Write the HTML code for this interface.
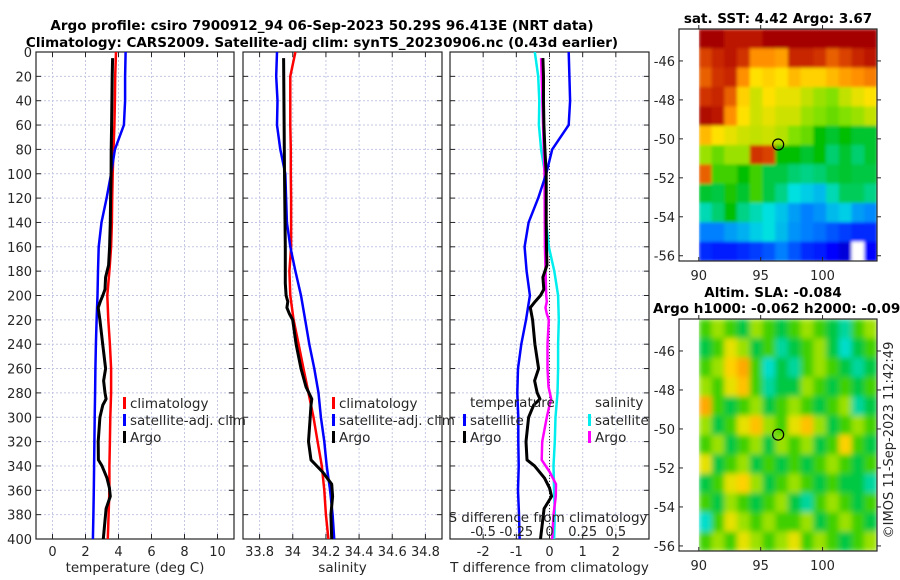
<!DOCTYPE html>
<html><head><meta charset="utf-8"><style>
html,body{margin:0;padding:0;background:#fff;}
svg{display:block;font-family:"DejaVu Sans","Liberation Sans",sans-serif;}
</style></head><body>
<svg id="fig" width="900" height="580" viewBox="0 0 900 580" xmlns="http://www.w3.org/2000/svg">
<defs>
<filter id="blur" x="0" y="0" width="1" height="1"><feGaussianBlur stdDeviation="3" edgeMode="duplicate"/></filter>
<filter id="blur2" x="0" y="0" width="1" height="1"><feGaussianBlur stdDeviation="1.5" edgeMode="duplicate"/></filter>
</defs>
<text x="322" y="30" font-size="13.5" font-weight="bold" text-anchor="middle">Argo profile: csiro 7900912_94 06-Sep-2023 50.29S 96.413E (NRT data)</text>
<text x="322" y="47" font-size="13.5" font-weight="bold" text-anchor="middle">Climatology: CARS2009. Satellite-adj clim: synTS_20230906.nc (0.43d earlier)</text>
<text x="778" y="23" font-size="13.5" font-weight="bold" text-anchor="middle">sat. SST: 4.42 Argo: 3.67</text>
<text x="773" y="297" font-size="13.5" font-weight="bold" text-anchor="middle">Altim. SLA: -0.084</text>
<text x="653" y="313" font-size="13.5" font-weight="bold">Argo h1000: -0.062 h2000: -0.099</text>
<text transform="translate(893,440) rotate(-90)" font-size="13" text-anchor="middle" fill="#262626">©IMOS 11-Sep-2023 11:42:49</text>
</svg>
<script>
// ---- data ----
const stdDepth = [0,20,40,60,80,100,120,140,160,180,200,220,240,260,280,300,320,340,360,380,400];
const climT = [3.85,3.8,3.78,3.75,3.7,3.65,3.62,3.6,3.55,3.45,3.32,3.38,3.48,3.55,3.55,3.5,3.48,3.45,3.45,3.4,3.35];
const satT = [4.43,4.4,4.4,4.33,3.78,3.55,3.28,2.97,2.8,2.76,2.73,2.67,2.63,2.6,2.58,2.56,2.54,2.52,2.5,2.48,2.45];
const climS = [34.016,33.985,33.985,33.985,33.988,33.988,33.99,33.99,33.99,33.98,33.985,34.005,34.035,34.065,34.095,34.125,34.15,34.175,34.19,34.2,34.215];
const satS = [33.905,33.9,33.908,33.905,33.925,33.955,33.96,33.965,33.985,34.016,34.05,34.075,34.1,34.13,34.155,34.17,34.19,34.205,34.225,34.24,34.25];
const argoTDepth = [5,20,40,60,80,100,120,140,160,175,185,195,200,205,210,220,240,260,270,280,285,290,300,320,335,340,350,358,365,375,400];
const argoT = [3.64,3.62,3.6,3.58,3.56,3.55,3.52,3.5,3.46,3.4,3.22,3.18,3.05,2.9,2.77,2.87,3.04,3.22,3.1,3.18,3.25,3.05,2.87,2.77,2.78,3.0,3.3,3.45,3.5,3.25,3.08];
const argoSDepth = [5,100,160,190,200,205,210,215,220,240,260,275,285,290,300,320,335,345,355,365,380,400];
const argoS = [33.945,33.95,33.955,33.955,33.96,33.97,33.965,33.98,34.0,34.02,34.05,34.08,34.115,34.11,34.105,34.095,34.11,34.18,34.235,34.24,34.23,34.235];
const depthTicks = [0,20,40,60,80,100,120,140,160,180,200,220,240,260,280,300,320,340,360,380,400];
const tTicks = [0,2,4,6,8,10];
const sTicks = [33.8,34,34.2,34.4,34.6,34.8];
const sTickLabels = ["33.8","34","34.2","34.4","34.6","34.8"];
const dTicks = [-2,-1,0,1,2];
const dsTicks = [-0.5,-0.25,0,0.25,0.5];
const dsTickLabels = ["-0.5","-0.25","0","0.25","0.5"];
const mapLonTicks = [90,95,100];
const mapLatTicks = [-46,-48,-50,-52,-54,-56];
const argoLon = 96.413, argoLat = -50.29;
const sstGrid = [
[1,1,0.95,0.95,0.95,1,1,1,1,1,1,1,1,1],
[0.88,0.92,0.95,0.9,0.8,0.8,0.78,0.92,0.92,0.9,0.85,0.88,0.92,0.95],
[0.85,0.9,0.92,0.8,0.7,0.72,0.7,0.75,0.72,0.72,0.75,0.78,0.8,0.82],
[0.9,0.92,0.85,0.72,0.66,0.7,0.68,0.68,0.65,0.62,0.6,0.65,0.68,0.7],
[0.98,0.95,0.8,0.7,0.66,0.68,0.66,0.66,0.62,0.6,0.58,0.6,0.62,0.65],
[0.75,0.7,0.68,0.66,0.65,0.66,0.64,0.6,0.58,0.5,0.48,0.5,0.48,0.48],
[0.62,0.58,0.62,0.62,0.9,0.88,0.5,0.5,0.48,0.5,0.45,0.48,0.45,0.48],
[0.85,0.55,0.55,0.5,0.55,0.47,0.47,0.45,0.44,0.45,0.47,0.48,0.47,0.47],
[0.48,0.47,0.52,0.48,0.55,0.47,0.44,0.4,0.38,0.36,0.42,0.46,0.46,0.44],
[0.42,0.45,0.5,0.44,0.42,0.4,0.37,0.33,0.3,0.32,0.36,0.38,0.33,0.31],
[0.3,0.3,0.33,0.35,0.38,0.4,0.36,0.32,0.3,0.28,0.25,0.22,0.2,0.2],
[0.2,0.18,0.18,0.2,0.22,0.25,0.3,0.25,0.2,0.18,0.15,0.1,-1,0.15]];
const slaGrid = [
[.55,.62,.55,.47,.62,.55,.47,.55,.62,.55,.47,.43,.55,.62],
[.47,.55,.68,.62,.47,.55,.43,.47,.55,.62,.47,.41,.47,.55],
[.55,.62,.72,.77,.55,.41,.47,.43,.55,.62,.55,.47,.43,.47],
[.62,.55,.68,.74,.55,.43,.47,.47,.62,.55,.47,.55,.47,.55],
[.77,.55,.47,.55,.62,.47,.55,.62,.55,.47,.55,.62,.43,.47],
[.62,.47,.55,.68,.74,.62,.55,.68,.74,.62,.47,.55,.62,.55],
[.55,.62,.47,.55,.62,.47,.62,.55,.62,.47,.55,.72,.55,.47],
[.68,.47,.55,.62,.47,.55,.47,.55,.47,.55,.62,.55,.47,.55],
[.47,.55,.68,.72,.62,.47,.55,.62,.55,.47,.55,.47,.47,.43],
[.55,.47,.62,.55,.47,.55,.62,.47,.43,.55,.62,.55,.47,.55],
[.41,.55,.68,.62,.55,.62,.55,.55,.62,.47,.55,.62,.55,.47],
[.55,.62,.55,.68,.62,.55,.62,.68,.55,.62,.55,.47,.55,.62]];

const NS='http://www.w3.org/2000/svg';
const svg=document.getElementById('fig');
function mk(tag,attrs,parent){const e=document.createElementNS(NS,tag);for(const k in attrs)e.setAttribute(k,attrs[k]);(parent||svg).appendChild(e);return e;}
function txt(x,y,s,size,anchor,parent){const t=mk('text',{x:x,y:y,'font-size':size,'text-anchor':anchor,fill:'#262626'},parent);t.textContent=s;return t;}
function interp(xs,ys,x){if(x<=xs[0])return ys[0];for(let i=1;i<xs.length;i++){if(x<=xs[i]){const f=(x-xs[i-1])/(xs[i]-xs[i-1]);return ys[i-1]+f*(ys[i]-ys[i-1]);}}return ys[ys.length-1];}

const TOP=52,BOT=539;
const yD=d=>TOP+(BOT-TOP)*d/400;

function panel(name,x0,x1,vmin,vmax,ticks,labels,xlabel,showY){
  const xs=v=>x0+(x1-x0)*(v-vmin)/(vmax-vmin);
  const g=mk('g',{});
  
  
  depthTicks.forEach(d=>{const y=yD(d);
    const l=mk('line',{x1:x0,x2:x1,y1:y,y2:y,stroke:'#c4c8e4','stroke-width':1,'stroke-dasharray':'2,2'},g);
    
    
    mk('line',{x1:x0,x2:x0+5,y1:y,y2:y,stroke:'#262626'},g);
    mk('line',{x1:x1-5,x2:x1,y1:y,y2:y,stroke:'#262626'},g);
    if(showY){const t=txt(x0-4,y+5,String(d),13,'end',g);
      
      }
  });
  ticks.forEach((v,i)=>{const x=xs(v);
    const l=mk('line',{x1:x,x2:x,y1:TOP,y2:BOT,stroke:'#c4c8e4','stroke-width':1,'stroke-dasharray':'2,2'},g);
    
    
    mk('line',{x1:x,x2:x,y1:BOT,y2:BOT-5,stroke:'#262626'},g);
    mk('line',{x1:x,x2:x,y1:TOP,y2:TOP+5,stroke:'#262626'},g);
    const t=txt(x,556,labels[i],13,'middle',g);
    
    
  });
  const r=mk('rect',{x:x0,y:TOP,width:x1-x0,height:BOT-TOP,fill:'none',stroke:'#262626','stroke-width':1.2},g);
  
  
  const xl=txt((x0+x1)/2,572,xlabel,13.5,'middle',g);
  
  
  return xs;
}
function line(xs,vals,depths,color,w,name,clip){
  const pts=vals.map((v,i)=>xs(v).toFixed(1)+','+yD(depths[i]).toFixed(1)).join(' ');
  const p=mk('polyline',{points:pts,fill:'none',stroke:color,'stroke-width':w,'stroke-linejoin':'round','clip-path':clip});
  
  
}
function clipRect(id,x0,x1){const d=mk('clipPath',{id:id});mk('rect',{x:x0,y:TOP,width:x1-x0,height:BOT-TOP},d);}
function legendEntry(x,y,color,label,name){
  const g=mk('g',{});
  
  
  mk('rect',{x:x,y:y-10,width:3,height:12,fill:color},g);
  txt(x+7,y+1,label,13.5,'start',g);
}

clipRect('c1',36,234);clipRect('c2',243,442);clipRect('c3',450,649);
const x1s=panel('temperature-panel',36,234,-1,11,tTicks,tTicks.map(String),'temperature (deg C)',true);
line(x1s,climT,stdDepth,'#ff0000',2.5,'climatology-temperature-line','url(#c1)');
line(x1s,satT,stdDepth,'#0000ff',2.5,'satellite-temperature-line','url(#c1)');
line(x1s,argoT,argoTDepth,'#000000',3,'argo-temperature-line','url(#c1)');
legendEntry(123,407,'#ff0000','climatology','legend-climatology-temp');
legendEntry(123,424,'#0000ff','satellite-adj. clim','legend-satellite-temp');
legendEntry(123,441,'#000000','Argo','legend-argo-temp');

const x2s=panel('salinity-panel',243,442,33.7,34.9,sTicks,sTickLabels,'salinity',false);
line(x2s,climS,stdDepth,'#ff0000',2.5,'climatology-salinity-line','url(#c2)');
line(x2s,satS,stdDepth,'#0000ff',2.5,'satellite-salinity-line','url(#c2)');
line(x2s,argoS,argoSDepth,'#000000',3,'argo-salinity-line','url(#c2)');
legendEntry(332,407,'#ff0000','climatology','legend-climatology-sal');
legendEntry(332,424,'#0000ff','satellite-adj. clim','legend-satellite-sal');
legendEntry(332,441,'#000000','Argo','legend-argo-sal');

const x3s=panel('difference-panel',450,649,-3,3,dTicks,dTicks.map(String),'T difference from climatology',false);
const z=mk('line',{x1:x3s(0),x2:x3s(0),y1:TOP,y2:BOT,stroke:'#333','stroke-width':1,'stroke-dasharray':'1,2'});


const satTd=satT.map((v,i)=>v-climT[i]);
const satSd=satS.map((v,i)=>4*(v-climS[i]));
const argoTd=argoT.map((v,i)=>v-interp(stdDepth,climT,argoTDepth[i]));
const argoSd=argoS.map((v,i)=>4*(v-interp(stdDepth,climS,argoSDepth[i])));
line(x3s,satSd,stdDepth,'#00eeee',2.5,'satellite-salinity-diff-line','url(#c3)');
line(x3s,argoSd,argoSDepth,'#ff00ff',2.5,'argo-salinity-diff-line','url(#c3)');
line(x3s,satTd,stdDepth,'#0000ff',2.5,'satellite-temperature-diff-line','url(#c3)');
line(x3s,argoTd,argoTDepth,'#000000',3,'argo-temperature-diff-line','url(#c3)');
const lt=txt(470,407,'temperature',13.5,'start');


legendEntry(463,424,'#0000ff','satellite','legend-satellite-tdiff');
legendEntry(463,441,'#000000','Argo','legend-argo-tdiff');
const ls=txt(595,407,'salinity',13.5,'start');


legendEntry(588,424,'#00eeee','satellite','legend-satellite-sdiff');
legendEntry(588,441,'#ff00ff','Argo','legend-argo-sdiff');
const st=txt(548,522,'S difference from climatology',13.5,'middle');


dsTicks.forEach((v,i)=>{const t=txt(x3s(4*v),536,dsTickLabels[i],13,'middle');
  
  });

const stops=[[0,[0,0,143]],[0.15,[0,0,255]],[0.3,[0,128,255]],[0.4,[0,224,224]],[0.5,[0,190,0]],[0.6,[130,225,0]],[0.7,[255,225,0]],[0.8,[255,144,0]],[0.9,[208,48,0]],[1,[165,0,0]]];
function cmap(v){if(v<0)return '#ffffff';for(let i=1;i<stops.length;i++){if(v<=stops[i][0]){const a=stops[i-1],b=stops[i],f=(v-a[0])/(b[0]-a[0]);const c=a[1].map((q,k)=>Math.round(q+f*(b[1][k]-q)));return 'rgb('+c.join(',')+')';}}return 'rgb(165,0,0)';}
function map(name,grid,y0,y1,latTop,latBot,filt){
  const X0=679,X1=877,lonL=88.4,lonR=104.4;
  const lx=lon=>X0+(X1-X0)*(lon-lonL)/(lonR-lonL);
  const ly=lat=>y0+(y1-y0)*(latTop-lat)/(latTop-latBot);
  const g=mk('g',{});
  
  
  const cid='clip-'+name;
  const cp=mk('clipPath',{id:cid});mk('rect',{x:lx(90),y:y0,width:X1-lx(90),height:y1-y0},cp);
  const cg=mk('g',{'clip-path':'url(#'+cid+')'},g);
  const cells=mk('g',{filter:'url(#'+filt+')'},cg);
  const nr=grid.length,nc=grid[0].length;
  const cw=(X1-lx(90))/nc,ch=(y1-y0)/nr;
  grid.forEach((row,r)=>row.forEach((v,c)=>{
    const rc=mk('rect',{x:(lx(90)+c*cw).toFixed(2),y:(y0+r*ch).toFixed(2),width:(cw+0.6).toFixed(2),height:(ch+0.6).toFixed(2),fill:cmap(v)},cells);
    
    
  }));
  mapLatTicks.forEach(lat=>{const y=ly(lat);
    mk('line',{x1:X1,x2:X1+4,y1:y,y2:y,stroke:'#262626'},g);
    mk('line',{x1:X0,x2:X0+4,y1:y,y2:y,stroke:'#262626'},g);
    const t=txt(X0-4,y+5,String(lat),13,'end',g);
    
    });
  mapLonTicks.forEach(lon=>{const x=lx(lon);
    mk('line',{x1:x,x2:x,y1:y1,y2:y1-4,stroke:'#262626'},g);
    mk('line',{x1:x,x2:x,y1:y0,y2:y0-4,stroke:'#262626'},g);
    const t=txt(x,y1+19,String(lon),13,'middle',g);
    
    });
  const b=mk('rect',{x:X0,y:y0,width:X1-X0,height:y1-y0,fill:'none',stroke:'#262626','stroke-width':1.2},g);
  
  
  const c=mk('circle',{cx:lx(argoLon),cy:ly(argoLat),r:5.5,fill:'none',stroke:'#000','stroke-width':1.2},g);
  
  
}
map('sst-map',sstGrid,29,261,-44.36,-56.27,'blur2');
map('sla-map',slaGrid,319,551,-44.36,-56.26,'blur');
</script>
</body></html>
